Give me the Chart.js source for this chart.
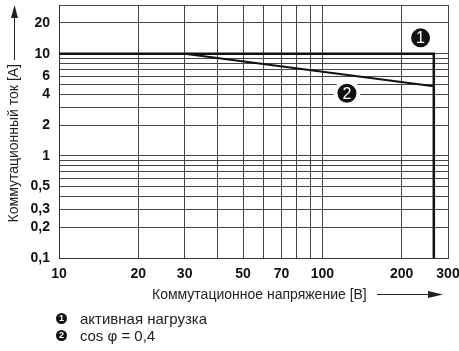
<!DOCTYPE html>
<html>
<head>
<meta charset="utf-8">
<script src="https://cdn.jsdelivr.net/npm/chart.js@4.4.1/dist/chart.umd.min.js"></script>
<style>
  html, body { margin: 0; padding: 0; background: #fff; }
  #wrap { position: relative; width: 459px; height: 351px; font-family: "Liberation Sans", Arial, sans-serif; color: #222; }
  #chart { position: absolute; left: 0; top: 0; }
  .legend { position: absolute; left: 56px; top: 310px; font-size: 15px; line-height: 17px; }
  .legend div { display: flex; align-items: center; }
  .dot { display: inline-block; width: 11px; height: 11px; border-radius: 50%; background: #111; color: #fff;
         font-size: 9px; font-weight: bold; line-height: 11px; text-align: center; margin-right: 13px; }
</style>
</head>
<body>
<div id="wrap">
  <canvas id="chart" width="459" height="351"></canvas>
  <div class="legend">
    <div><span class="dot">1</span>активная нагрузка</div>
    <div><span class="dot">2</span>cos φ = 0,4</div>
  </div>
</div>
<script>
// Оси и подписи
const xGrid = [10, 20, 30, 40, 50, 60, 70, 80, 90, 100, 200, 300];
const xLabels = [10, 20, 30, 50, 70, 100, 200, 300];
const yGrid = [0.1, 0.2, 0.3, 0.4, 0.5, 0.6, 0.7, 0.8, 0.9, 1, 2, 3, 4, 5, 6, 7, 8, 9, 10, 20, 30];
const yLabels = [0.1, 0.2, 0.3, 0.5, 1, 2, 4, 6, 10, 20];

// Кривые
const activeX = [10, 265, 265];
const activeY = [10, 10, 0.1];
const cosPhiX = [30, 265];
const cosPhiY = [10, 4.8];

// Номера кривых
const markerX = [236, 124];
const markerY = [14.3, 4.1];
const markerText = ['1', '2'];

const xTitle = 'Коммутационное напряжение [В]';
const yTitle = 'Коммутационный ток [A]';

const toPoints = (xs, ys) => xs.map((x, i) => ({ x: x, y: ys[i] }));
const fmt = v => String(v).replace('.', ',');
const FONT = '"Liberation Sans", Arial, sans-serif';

const decorPlugin = {
    id: 'decor',
    afterDatasetsDraw(chart) {
        const ctx = chart.ctx;
        // цифры в кружках
        const meta = chart.getDatasetMeta(2);
        ctx.save();
        ctx.fillStyle = '#fff';
        ctx.font = '16px ' + FONT;
        ctx.textAlign = 'center';
        ctx.textBaseline = 'middle';
        meta.data.forEach((pt, i) => ctx.fillText(markerText[i], pt.x, pt.y + 1));
        ctx.restore();
    },
    afterDraw(chart) {
        const ctx = chart.ctx;
        ctx.save();
        ctx.fillStyle = '#222';
        ctx.strokeStyle = '#222';
        ctx.lineWidth = 1;
        ctx.font = '14px ' + FONT;

        // заголовок оси Y + стрелка
        ctx.save();
        ctx.translate(14, 64);
        ctx.rotate(-Math.PI / 2);
        ctx.textAlign = 'right';
        ctx.textBaseline = 'middle';
        ctx.fillText(yTitle, 0, 0);
        ctx.restore();
        ctx.beginPath();
        ctx.moveTo(14.5, 60);
        ctx.lineTo(14.5, 16);
        ctx.stroke();
        ctx.beginPath();
        ctx.moveTo(14.5, 5);
        ctx.lineTo(18, 18);
        ctx.lineTo(11, 18);
        ctx.closePath();
        ctx.fill();

        // заголовок оси X + стрелка
        ctx.textAlign = 'left';
        ctx.textBaseline = 'middle';
        ctx.fillText(xTitle, 152, 295);
        ctx.beginPath();
        ctx.moveTo(377, 294.5);
        ctx.lineTo(430, 294.5);
        ctx.stroke();
        ctx.beginPath();
        ctx.moveTo(443, 294.5);
        ctx.lineTo(428, 291);
        ctx.lineTo(428, 298);
        ctx.closePath();
        ctx.fill();
        ctx.restore();
    }
};

new Chart(document.getElementById('chart'), {
    type: 'scatter',
    data: {
        datasets: [{
            data: toPoints(activeX, activeY),
            showLine: true,
            borderColor: '#111',
            borderWidth: 2.5,
            pointRadius: 0
        }, {
            data: toPoints(cosPhiX, cosPhiY),
            showLine: true,
            borderColor: '#111',
            borderWidth: 2,
            pointRadius: 0
        }, {
            data: toPoints(markerX, markerY),
            showLine: false,
            pointRadius: 11.5,
            backgroundColor: '#111',
            borderColor: '#fff',
            borderWidth: 4
        }]
    },
    options: {
        responsive: false,
        animation: false,
        layout: { autoPadding: false, padding: { top: 5, right: 11, left: 0, bottom: 0 } },
        plugins: { legend: { display: false }, tooltip: { enabled: false } },
        scales: {
            x: {
                type: 'logarithmic',
                min: 10,
                max: 300,
                afterBuildTicks: s => { s.ticks = xGrid.map(v => ({ value: v })); },
                afterFit: s => { s.height = 351 - 258; s.paddingLeft = 0; s.paddingRight = 0; },
                grid: { color: '#444', lineWidth: 1, drawTicks: false },
                border: { color: '#333', width: 1 },
                ticks: {
                    autoSkip: false,
                    maxRotation: 0,
                    padding: 8,
                    color: '#111',
                    font: { family: FONT, size: 14, weight: 'bold' },
                    callback: v => xLabels.includes(v) ? fmt(v) : ''
                }
            },
            y: {
                type: 'logarithmic',
                min: 0.1,
                max: 30,
                afterBuildTicks: s => { s.ticks = yGrid.map(v => ({ value: v })); },
                afterFit: s => { s.width = 59; s.paddingTop = 0; s.paddingBottom = 0; },
                grid: { color: '#444', lineWidth: 1, drawTicks: false },
                border: { color: '#333', width: 1 },
                ticks: {
                    autoSkip: false,
                    padding: 9,
                    color: '#111',
                    font: { family: FONT, size: 14, weight: 'bold' },
                    callback: v => yLabels.includes(v) ? fmt(v) : ''
                }
            }
        }
    },
    plugins: [decorPlugin]
});
</script>
</body>
</html>
